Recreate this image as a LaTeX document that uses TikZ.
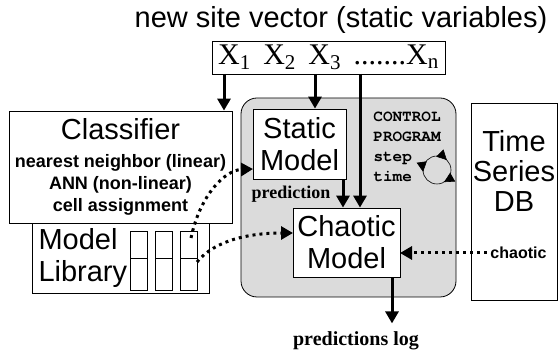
\documentclass[tikz,border=0pt]{standalone}
\usepackage{fontspec}
\setmainfont{Liberation Sans}
\newfontfamily\tmsfont{Liberation Serif}
\newfontfamily\crrfont{TeX Gyre Cursor}
\usetikzlibrary{arrows.meta, positioning}
\tikzset{box/.style={draw, fill=white, line width=0.8pt, inner sep=0pt, align=center},
         bigtext/.style={font=\fontsize{29}{32}\selectfont},
         smalltext/.style={font=\bfseries\fontsize{18}{22}\selectfont},
         ctrltext/.style={font=\crrfont\bfseries\fontsize{16}{20}\selectfont},
         flow/.style={line width=3pt, -{Triangle[length=12pt,width=13pt]}},
         dotflow/.style={line width=3pt, dash pattern=on 3pt off 4pt, -{Triangle[length=12pt,width=13pt]}},
         cycletip/.style={line width=0.6pt, -{Triangle[length=10pt,width=10pt]}},
         }

\begin{document}
\begin{tikzpicture}[x=1pt, y=-1pt]
    \useasboundingbox (0,0) rectangle (558,352);
    % control program area
    \node[draw, fill=black!14, line width=0.8pt, rounded corners=16pt, minimum width=215, minimum height=199] (ctrl) at (348.5,197.5) {};

    \node[bigtext] (title) at (341,20) {new site vector (static variables)};
    \node[box, minimum width=233, minimum height=33, font=\tmsfont\fontsize{30}{30}\selectfont] (vec) at (328.5,57.5)
        {X\textsubscript{1}\, X\textsubscript{2}\, X\textsubscript{3}\, .......X\textsubscript{n}};

    \node[box, smalltext, minimum width=223, minimum height=112] (cls) at (120.5,167)
        {{\mdseries\fontsize{29}{29}\selectfont Classifier}\\[6pt]
         nearest neighbor (linear)\\ ANN (non-linear)\\ cell assignment};
    \node[box, minimum width=177, minimum height=70] (lib) at (120.5,258) {};
    \node[bigtext, anchor=west, align=left] (libtxt) at (35,258) {Model\\Library};
    \foreach \cx in {130,155,180} {
        \draw[line width=0.8pt] (\cx,231) rectangle ++(17,59);
        \draw[line width=0.8pt] (\cx,258) -- ++(17,0);
    }

    \node[box, bigtext, minimum width=93, minimum height=70] (stat) at (299.5,144) {Static\\Model};
    \node[box, bigtext, minimum width=107, minimum height=69] (chao) at (346.5,242.5) {Chaotic\\Model};
    \node[box, minimum width=86, minimum height=197] (tsdb) at (514,201.5) {};
    \node[bigtext, align=center, font=\fontsize{29}{30}\selectfont] (tsdbtxt) at (514,171) {Time\\Series\\DB};

    \node[font=\tmsfont\bfseries\fontsize{18}{18}\selectfont] (predlbl) at (291,194) {prediction};
    \node[ctrltext, align=center] (ctrltxt) at (407,127) {CONTROL\\PROGRAM};
    \node[ctrltext, anchor=west, align=left] (steptxt) at (370,167) {step\\time};
    \node[smalltext, font=\bfseries\fontsize{16}{16}\selectfont, anchor=east] (chlbl) at (550,253) {chaotic};

    % connectors
    \coordinate (v1) at (224,74);
    \coordinate (v3) at (315,74);
    \coordinate (vn) at (360,74);
    \coordinate (sp) at ([xshift=43.5]stat.south);
    \coordinate (cellA) at (191,238);
    \coordinate (cellB) at (197,262);
    \coordinate (sin) at (253,169);
    \coordinate (cin) at (293,233);
    \coordinate (cout) at (400,253);
    \coordinate (cyc) at (437,170);

    \draw[flow] (v1) -- (v1 |- cls.north);
    \draw[flow] (v3) -- (v3 |- stat.north);
    \draw[flow] (vn) -- (vn |- chao.north);
    \draw[flow] (sp) -- (sp |- chao.north);
    \draw[flow] ([xshift=45.5]chao.south) -- ++(0,46) coordinate (logtip);
    \node[font=\tmsfont\bfseries\fontsize{20}{20}\selectfont, anchor=north] (log) at ([xshift=-36,yshift=-5]logtip) {predictions log};

    \draw[dotflow] (cellA) .. controls (200,195) and (225,170) .. (sin);
    \draw[dotflow] (cellB) .. controls (215,240) and (250,233) .. (cin);
    \draw[dotflow] (chlbl.west) -- (cout);

    \draw[line width=0.6pt] (cyc) circle[radius=14pt];
    \draw[cycletip] (cyc) ++(75:14pt) arc[start angle=75, end angle=45, radius=14pt];
    \draw[cycletip] (cyc) ++(150:14pt) arc[start angle=150, end angle=188, radius=14pt];
    \draw[cycletip] (cyc) ++(-25:14pt) arc[start angle=-25, end angle=-60, radius=14pt];
\end{tikzpicture}
\end{document}
